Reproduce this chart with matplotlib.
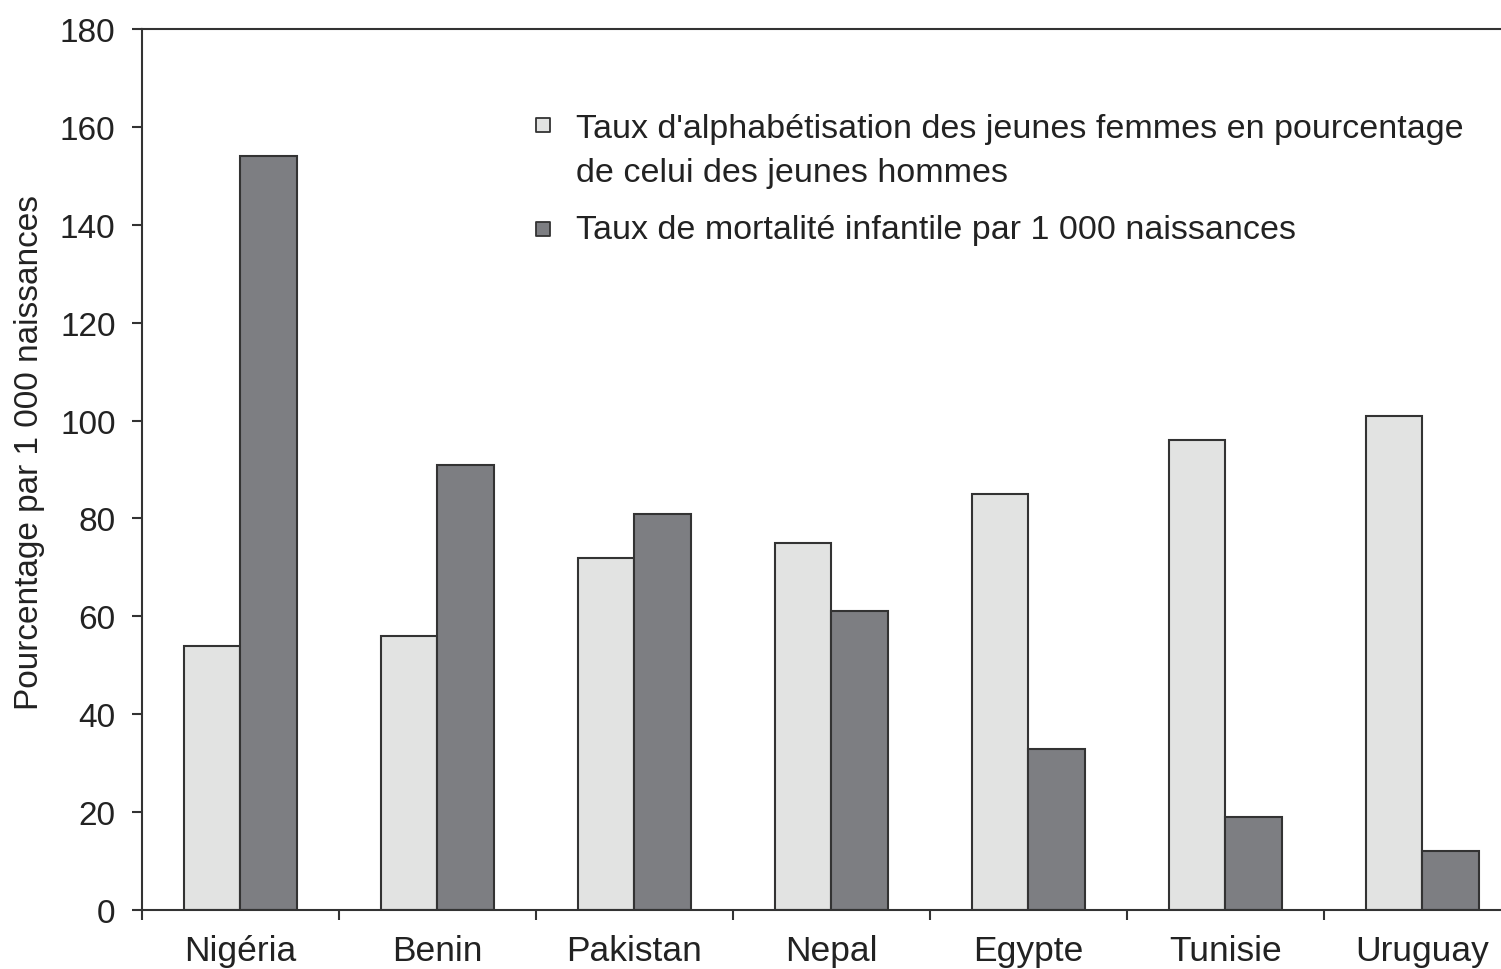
import numpy as np
import matplotlib
matplotlib.use('Agg')
import matplotlib.pyplot as plt

plt.rcParams['font.family'] = ['Liberation Sans Narrow', 'Liberation Sans', 'DejaVu Sans']

pays = ['Nigéria', 'Benin', 'Pakistan', 'Nepal', 'Egypte', 'Tunisie', 'Uruguay']
alphabetisation = [54, 56, 72, 75, 85, 96, 101]
mortalite = [154, 91, 81, 61, 33, 19, 12]

label_alpha = "Taux d'alphabétisation des jeunes femmes en pourcentage\nde celui des jeunes hommes"
label_mort = "Taux de mortalité infantile par 1 000 naissances"
ylabel = 'Pourcentage par 1 000 naissances'

light = '#e2e3e2'
dark = '#7d7e82'
edge = '#333333'

fig = plt.figure(figsize=(15.01, 9.70), dpi=100)
ax = fig.add_axes([0.0946, 0.0608, 0.9187, 0.9082])

x = np.arange(len(pays))
w = 0.285
ax.bar(x - w / 2, alphabetisation, w, color=light, edgecolor=edge, linewidth=1.5)
ax.bar(x + w / 2, mortalite, w, color=dark, edgecolor=edge, linewidth=1.5)

ax.set_xlim(-0.5, len(pays) - 0.5)
ax.set_ylim(0, 180)
ax.set_yticks(range(0, 181, 20))

# ticks at category boundaries, labels at centres
ax.set_xticks(np.arange(-0.5, len(pays), 1))
ax.set_xticklabels([])
ax.set_xticks(x, minor=True)
ax.set_xticklabels(pays, minor=True)
ax.tick_params(axis='x', which='major', direction='out', length=7, width=1.5, color=edge)
ax.tick_params(axis='x', which='minor', length=0, pad=17, labelsize=25.5, labelcolor='#222222')
ax.tick_params(axis='y', direction='out', length=7, width=1.5, color=edge, pad=12,
               labelsize=24, labelcolor='#222222')

for s in ax.spines.values():
    s.set_linewidth(1.5)
    s.set_color(edge)

# legend drawn by hand so the square lines up with the first line
ax.scatter([0.291], [0.891], marker='s', s=110, color=light, edgecolor=edge,
           linewidth=1.3, transform=ax.transAxes, clip_on=False, zorder=5)
ax.scatter([0.291], [0.773], marker='s', s=110, color=dark, edgecolor=edge,
           linewidth=1.3, transform=ax.transAxes, clip_on=False, zorder=5)
ax.text(0.315, 0.905, label_alpha, transform=ax.transAxes, fontsize=24.5,
        va='top', ha='left', color='#222222', linespacing=1.55)
ax.text(0.315, 0.773, label_mort, transform=ax.transAxes, fontsize=24.5,
        va='center', ha='left', color='#222222')

fig.text(30 / 1501, 1 - 453 / 970, ylabel, rotation=90, fontsize=24,
         ha='center', va='center', color='#222222')

fig.savefig('out.png', dpi=100)
